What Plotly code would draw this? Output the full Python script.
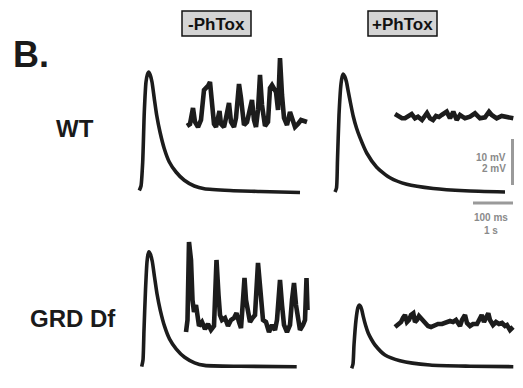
import plotly.graph_objects as go

# ---- EPSP traces (x, y in figure units) ----
wt_ctrl_epsp_x = [139.3, 141, 142.7, 144.3, 146, 147.4, 148.7, 150.2, 152, 154.3, 156.7, 160, 164.3, 169.3, 176, 184.3, 194.3, 204.3, 230, 260, 300]
wt_ctrl_epsp_y = [190.5, 186, 162, 112, 82, 74.5, 72, 75, 82, 98.7, 115.3, 132, 148.7, 162, 172, 180.3, 186, 188.7, 190.5, 191.5, 192.5]

wt_ptx_epsp_x = [335, 336.5, 337.5, 339, 341, 342.2, 343.3, 344.8, 346.5, 348.3, 350.5, 353.3, 356.5, 360, 366.7, 376.7, 390, 406.7, 433.3, 465, 505]
wt_ptx_epsp_y = [192, 188, 160, 115, 84, 76.5, 74, 76.5, 82, 91.7, 103, 116.5, 128, 137.7, 153, 167.2, 177.8, 184.3, 188.5, 190.8, 192]

grd_ctrl_epsp_x = [141.7, 143, 144, 145.5, 147, 148, 149, 150.5, 152.3, 154.6, 157, 160.3, 164.6, 169.6, 176.3, 184.6, 194.6, 204.6, 240, 296.7]
grd_ctrl_epsp_y = [366.7, 360, 330, 290, 262, 254.5, 251.7, 254.5, 261.5, 277.6, 293.8, 310.3, 326.4, 339.1, 349.1, 357.3, 362.8, 365.4, 366.3, 366.7]

grd_ptx_epsp_x = [351.7, 353, 354, 356, 357.8, 358.6, 359.3, 360.3, 361.7, 363.3, 365.5, 368.3, 371.5, 375, 385, 400, 430, 470, 513.3]
grd_ptx_epsp_y = [368.3, 364, 345, 320, 308, 305.8, 305, 306, 309.5, 316.7, 325, 333.3, 339.5, 345, 355, 360.7, 365, 366.2, 366.7]

# ---- spontaneous minis ----
wt_ctrl_mini_x = [187, 190, 193, 195, 198, 201, 204, 206, 208, 210, 212, 214, 216, 218, 219.5, 221, 224, 226, 229, 231, 234, 236,
                  239, 241, 244, 247, 250, 252, 254, 256, 258, 260, 262, 265, 268, 270, 272, 274, 276, 278, 280, 282, 284, 287,
                  290, 292, 295, 298, 301, 304, 307]
wt_ctrl_mini_y = [126, 124, 108, 122, 127, 120, 90, 88, 86, 82, 100, 124, 127, 115, 111, 124, 127, 118, 103, 122, 127, 118,
                  84, 98, 125, 122, 105, 100, 120, 127, 110, 75, 105, 126, 122, 88, 85, 88, 92, 110, 58, 95, 118, 125,
                  112, 118, 127, 124, 120, 121, 122]

wt_ptx_mini_x = [395, 398, 402, 405, 408, 411.7, 415, 418, 422, 425, 427, 430, 433, 436, 439, 441.7, 446.7, 450, 453.3, 456.7,
                 460, 465, 470, 475, 480, 485, 489, 491.7, 496.7, 501.7, 506.7, 513.3]
wt_ptx_mini_y = [114, 116, 118.3, 118.3, 116, 114, 118.3, 116.7, 120, 115, 113, 118.3, 120, 116, 117, 115, 111.7, 118.3, 111.7, 120,
                 115, 118.3, 116.7, 113.3, 118.3, 117.3, 111.7, 115, 118.3, 116, 117.3, 118.3]

grd_ctrl_mini_x = [186, 187.5, 189, 191, 192.5, 194, 196, 197.5, 199, 202, 205, 208, 211, 214, 216.5, 218.5, 220, 222, 225, 228,
                   231, 234, 236.5, 239, 241, 243, 244.5, 246, 248, 250, 252.5, 255, 258, 260.5, 263, 266, 269, 272, 275, 277,
                   280, 282, 284, 287, 290, 292, 294, 296, 298, 300, 303, 305, 306.5, 307.5]
grd_ctrl_mini_y = [332, 320, 242, 260, 300, 312, 305, 318, 326, 322, 329, 324, 330, 326, 260, 295, 315, 320, 318, 326,
                   320, 318, 313, 322, 328, 300, 278, 300, 313, 322, 318, 315, 263, 300, 320, 322, 332, 325, 330, 320,
                   280, 305, 325, 332, 325, 300, 283, 305, 322, 330, 325, 320, 278, 310]

grd_ptx_mini_x = [395, 398, 401, 403, 405, 407, 409, 411, 413.3, 415, 417, 419, 421, 424, 428, 431, 435, 438, 442, 446, 450, 453,
                  456, 460, 462, 465, 467, 470, 473, 477, 480, 481.7, 484, 486, 488.3, 490, 493, 496, 499, 502, 505, 507, 510, 513]
grd_ptx_mini_y = [327, 325, 322, 318, 315, 322, 320, 315, 313.3, 322, 320, 316, 318, 322, 326, 327, 325, 324, 324, 322, 321, 322,
                  320, 326, 320, 315, 323, 326, 324, 324, 318, 315, 322, 318, 313.3, 320, 325, 322, 324, 323, 326, 325, 330, 327]

# ---- scale bars ----
vbar_x = [512.5, 512.5]
vbar_y = [139, 185]
hbar_x = [473, 513]
hbar_y = [203, 203]

row_labels = ["WT", "GRD Df"]
cond_labels = ["-PhTox", "+PhTox"]
scale_labels_v = ["10 mV", "2 mV"]
scale_labels_h = ["100 ms", "1 s"]

TRACE = "#1c1c1c"
GRAY = "#9a9a9a"
FONT = "Liberation Sans, Arial, sans-serif"

fig = go.Figure()

for xs, ys in [(wt_ctrl_epsp_x, wt_ctrl_epsp_y), (wt_ptx_epsp_x, wt_ptx_epsp_y),
               (grd_ctrl_epsp_x, grd_ctrl_epsp_y), (grd_ptx_epsp_x, grd_ptx_epsp_y)]:
    fig.add_trace(go.Scatter(x=xs, y=ys, mode="lines",
                             line=dict(color=TRACE, width=3.6, shape="spline", smoothing=0.6),
                             hoverinfo="skip", showlegend=False))

for xs, ys in [(wt_ctrl_mini_x, wt_ctrl_mini_y), (wt_ptx_mini_x, wt_ptx_mini_y),
               (grd_ctrl_mini_x, grd_ctrl_mini_y), (grd_ptx_mini_x, grd_ptx_mini_y)]:
    fig.add_trace(go.Scatter(x=xs, y=ys, mode="lines",
                             line=dict(color=TRACE, width=4.6),
                             hoverinfo="skip", showlegend=False))

for xs, ys in [(vbar_x, vbar_y), (hbar_x, hbar_y)]:
    fig.add_trace(go.Scatter(x=xs, y=ys, mode="lines",
                             line=dict(color=GRAY, width=3),
                             hoverinfo="skip", showlegend=False))

# condition boxes
for (x0, x1), lab in zip([(182, 251), (368, 437)], cond_labels):
    fig.add_shape(type="rect", x0=x0, x1=x1, y0=11, y1=36,
                  fillcolor="#d4d4d4", line=dict(color="#111111", width=1.5), layer="below")
    fig.add_annotation(x=(x0 + x1) / 2, y=24, text="<b>%s</b>" % lab, showarrow=False,
                       font=dict(family=FONT, size=17, color="#111111"), xanchor="center", yanchor="middle")

fig.add_annotation(x=11, y=54, text="<b>B.</b>", showarrow=False, xanchor="left", yanchor="middle",
                   font=dict(family=FONT, size=36, color="#1a1a1a"))
for y, lab, x in [(128, row_labels[0], 75), (318, row_labels[1], 73)]:
    fig.add_annotation(x=x, y=y, text="<b>%s</b>" % lab, showarrow=False, xanchor="center", yanchor="middle",
                       font=dict(family=FONT, size=24, color="#1a1a1a"))

for y, lab in [(157, scale_labels_v[0]), (168, scale_labels_v[1])]:
    fig.add_annotation(x=508, y=y, text="<b>%s</b>" % lab, showarrow=False, xanchor="right", yanchor="middle",
                       font=dict(family=FONT, size=10, color="#8a8a8a"))
for y, lab in [(217, scale_labels_h[0]), (230, scale_labels_h[1])]:
    fig.add_annotation(x=491, y=y, text="<b>%s</b>" % lab, showarrow=False, xanchor="center", yanchor="middle",
                       font=dict(family=FONT, size=10, color="#8a8a8a"))

fig.update_layout(
    width=523, height=388,
    margin=dict(l=0, r=0, t=0, b=0),
    paper_bgcolor="white", plot_bgcolor="white",
    xaxis=dict(range=[0, 523], visible=False, fixedrange=True),
    yaxis=dict(range=[388, 0], visible=False, fixedrange=True),
)

fig.write_html("out.html", config={"displayModeBar": False},
               post_script="document.body.style.margin='0';document.body.style.overflow='hidden';")
